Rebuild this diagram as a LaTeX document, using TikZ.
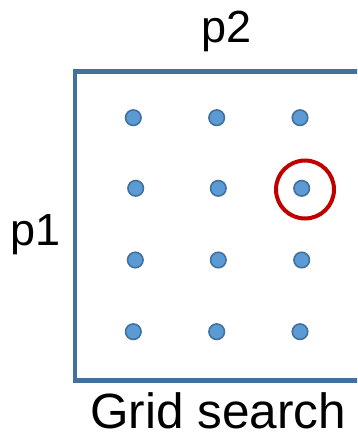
\documentclass[tikz,border=0pt]{standalone}
\usepackage{fontspec}
\setmainfont{Liberation Sans}
\usepackage{tikz}
\definecolor{gridblue}{HTML}{41719C}
\definecolor{dotblue}{HTML}{5B9BD5}
\definecolor{pickred}{HTML}{C00000}

\begin{document}
\begin{tikzpicture}[x=1pt,y=-1pt,
  every node/.style={font=\fontsize{45}{50}\selectfont},
  gpt/.style={circle,fill=dotblue,draw=gridblue,line width=1.6pt,minimum size=15.5pt,inner sep=0pt}]
  \useasboundingbox (0,0) rectangle (357,439);
  \clip (0,0) rectangle (357,439);
  \draw[gridblue,line width=4.5pt] (400,71.5) -- (75,71.5) -- (75,380.5) -- (400,380.5);
  \node[anchor=base] (ptwo) at (227,42) {p2};
  \node[anchor=base] (pone) at (36,245) {p1};
  \node[anchor=base,font=\fontsize{49.5}{54}\selectfont] (cap) at (218,428) {Grid search};
  % grid of trial points
  \node[gpt] (d11) at (133.3,117.7) {};
  \node[gpt] (d12) at (216.7,117.7) {};
  \node[gpt] (d13) at (300,117.7) {};
  \node[gpt] (d21) at (135.7,188.3) {};
  \node[gpt] (d22) at (218.3,188.3) {};
  \node[gpt] (d23) at (301.7,188.3) {};
  \node[gpt] (d31) at (135.3,260) {};
  \node[gpt] (d32) at (218.3,260) {};
  \node[gpt] (d33) at (301.7,260) {};
  \node[gpt] (d41) at (133.3,331.7) {};
  \node[gpt] (d42) at (216.7,331.7) {};
  \node[gpt] (d43) at (300,331.7) {};
  \draw[pickred,line width=4pt] (305,189.5) circle (29);
\end{tikzpicture}
\end{document}
